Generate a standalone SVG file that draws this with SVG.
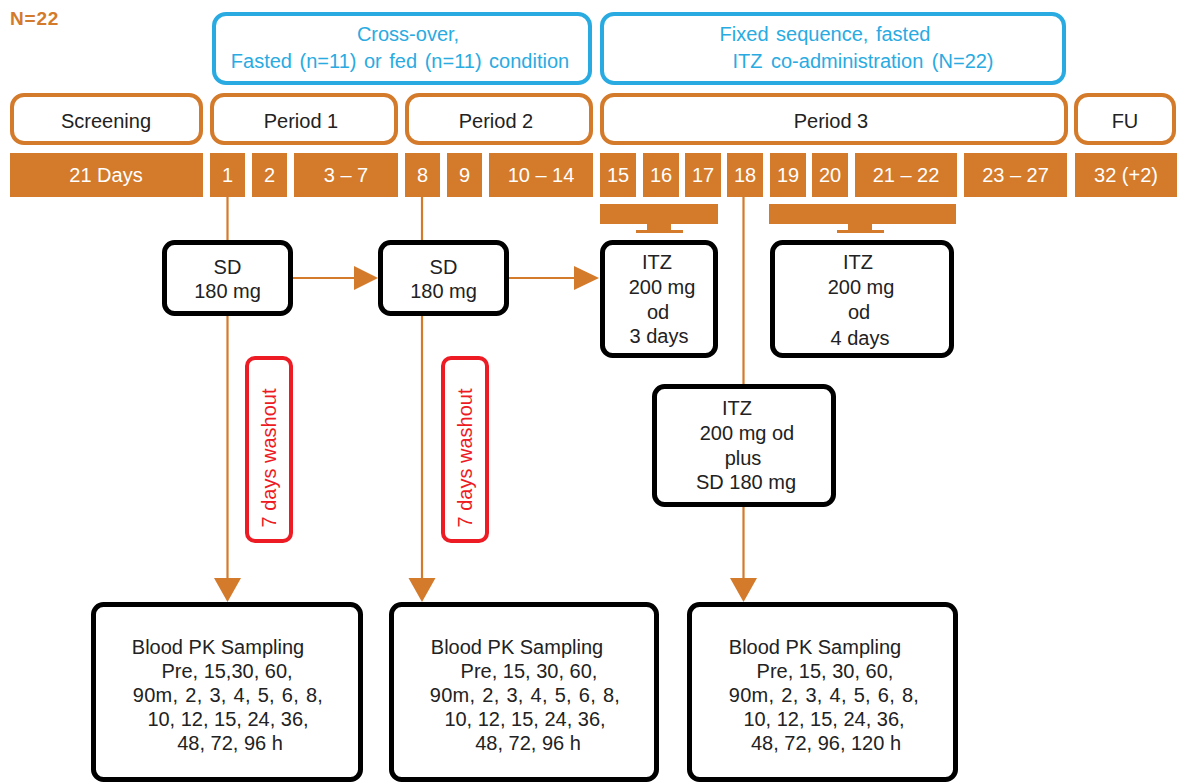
<svg xmlns="http://www.w3.org/2000/svg" width="1178" height="784" viewBox="0 0 1178 784">
<defs>
<style>
text{font-family:"Liberation Sans",Arial,sans-serif;font-size:20px;fill:#222;text-anchor:middle}
.blue{fill:none;stroke:#29ABE2;stroke-width:4}
.bt{fill:#29ABE2}
.per{fill:#fff;stroke:#D47A2B;stroke-width:4}
.day{fill:#D47A2B}
.dt{fill:#fff}
.node{fill:#fff;stroke:#000;stroke-width:5}
.wash{fill:#fff;stroke:#ED1C24;stroke-width:4}
.wt{fill:#ED1C24}
.ln{stroke:#D47A2B;stroke-width:2.2;fill:none}
.ah{fill:#D47A2B}
</style>
</defs>
<rect width="1178" height="784" fill="#fff"/>
<text x="10" y="25" style="text-anchor:start;font-weight:bold;font-size:19px;fill:#D47A2B;letter-spacing:0.8px">N=22</text>

<g id="group-crossover">
<rect class="blue" x="214" y="14" width="376" height="69" rx="12"/>
<text class="bt" x="408" y="41">Cross-over,</text>
<text class="bt" x="400" y="68" style="word-spacing:2px">Fasted (n=11) or fed (n=11) condition</text>
</g>
<g id="group-fixed">
<rect class="blue" x="602" y="14" width="462" height="69" rx="12"/>
<text class="bt" x="825" y="41" style="word-spacing:2px">Fixed sequence, fasted</text>
<text class="bt" x="863" y="68" style="word-spacing:3px">ITZ co-administration (N=22)</text>
</g>

<g id="period-screening"><rect class="per" x="12" y="95" width="189" height="48" rx="12"/><text x="106" y="128">Screening</text></g>
<g id="period-1"><rect class="per" x="212" y="95" width="184" height="48" rx="12"/><text x="301" y="128">Period 1</text></g>
<g id="period-2"><rect class="per" x="407" y="95" width="184" height="48" rx="12"/><text x="496" y="128">Period 2</text></g>
<g id="period-3"><rect class="per" x="602" y="95" width="464" height="48" rx="12"/><text x="831" y="128">Period 3</text></g>
<g id="period-fu"><rect class="per" x="1076" y="95" width="98" height="48" rx="12"/><text x="1125" y="128">FU</text></g>

<g id="days">
<rect class="day" x="10" y="153" width="193" height="44"/><text class="dt" x="106" y="182">21 Days</text>
<rect class="day" x="210" y="153" width="35" height="44"/><text class="dt" x="227.5" y="182">1</text>
<rect class="day" x="252" y="153" width="35" height="44"/><text class="dt" x="269.5" y="182">2</text>
<rect class="day" x="294" y="153" width="104" height="44"/><text class="dt" x="346" y="182">3 – 7</text>
<rect class="day" x="405" y="153" width="35" height="44"/><text class="dt" x="422.5" y="182">8</text>
<rect class="day" x="447" y="153" width="35" height="44"/><text class="dt" x="464.5" y="182">9</text>
<rect class="day" x="489" y="153" width="104" height="44"/><text class="dt" x="541" y="182">10 – 14</text>
<rect class="day" x="600" y="153" width="36" height="44"/><text class="dt" x="618" y="182">15</text>
<rect class="day" x="643" y="153" width="36" height="44"/><text class="dt" x="661" y="182">16</text>
<rect class="day" x="685" y="153" width="36" height="44"/><text class="dt" x="703" y="182">17</text>
<rect class="day" x="727" y="153" width="36" height="44"/><text class="dt" x="745" y="182">18</text>
<rect class="day" x="770" y="153" width="36" height="44"/><text class="dt" x="788" y="182">19</text>
<rect class="day" x="812" y="153" width="36" height="44"/><text class="dt" x="830" y="182">20</text>
<rect class="day" x="855" y="153" width="102" height="44"/><text class="dt" x="906" y="182">21 – 22</text>
<rect class="day" x="964" y="153" width="103" height="44"/><text class="dt" x="1015.5" y="182">23 – 27</text>
<rect class="day" x="1075" y="153" width="102" height="44"/><text class="dt" x="1126" y="182">32 (+2)</text>
</g>

<g id="brackets">
<rect class="day" x="600" y="204" width="118" height="20"/>
<rect class="day" x="647" y="224" width="24" height="7"/>
<rect class="day" x="636" y="230" width="47" height="3"/>
<rect class="day" x="769" y="204" width="187" height="20"/>
<rect class="day" x="848" y="224" width="24" height="7"/>
<rect class="day" x="837" y="230" width="47" height="3"/>
</g>

<g id="connectors">
<line class="ln" x1="227.5" y1="197" x2="227.5" y2="242"/>
<line class="ln" x1="227.5" y1="314" x2="227.5" y2="580"/>
<polygon class="ah" points="214,578 241,578 227.5,602"/>
<line class="ln" x1="422" y1="197" x2="422" y2="242"/>
<line class="ln" x1="422" y1="314" x2="422" y2="580"/>
<polygon class="ah" points="408.5,578 435.5,578 422,602"/>
<line class="ln" x1="743.5" y1="197" x2="743.5" y2="386"/>
<line class="ln" x1="743.5" y1="505" x2="743.5" y2="580"/>
<polygon class="ah" points="730,578 757,578 743.5,602"/>
<line class="ln" x1="292" y1="278" x2="356" y2="278"/>
<polygon class="ah" points="354,266 378,278 354,290"/>
<line class="ln" x1="508" y1="278" x2="576" y2="278"/>
<polygon class="ah" points="574,266 599,278 574,290"/>
</g>

<g id="sd-1"><rect class="node" x="164.5" y="242.5" width="126" height="71" rx="10"/><text x="227.5" y="274">SD</text><text x="227.5" y="298">180 mg</text></g>
<g id="sd-2"><rect class="node" x="380.5" y="242.5" width="126" height="71" rx="10"/><text x="443.5" y="274">SD</text><text x="443.5" y="298">180 mg</text></g>
<g id="itz-3days"><rect class="node" x="602.5" y="242.5" width="113" height="113" rx="10"/>
<text x="657" y="269">ITZ</text><text x="662" y="294">200 mg</text><text x="658" y="319">od</text><text x="659" y="343">3 days</text></g>
<g id="itz-4days"><rect class="node" x="772.5" y="242.5" width="179" height="113" rx="10"/>
<text x="858" y="269">ITZ</text><text x="861" y="294">200 mg</text><text x="859" y="319">od</text><text x="860" y="345">4 days</text></g>
<g id="itz-combined"><rect class="node" x="654.5" y="386.5" width="179" height="118" rx="10"/>
<text x="737" y="415">ITZ</text><text x="747" y="440">200 mg od</text><text x="743" y="465">plus</text><text x="746" y="489">SD 180 mg</text></g>

<g id="washout-1"><rect class="wash" x="247" y="358" width="44" height="183" rx="8"/><text class="wt" transform="translate(276,458) rotate(-90)" x="0" y="0">7 days washout</text></g>
<g id="washout-2"><rect class="wash" x="443" y="358" width="44" height="183" rx="8"/><text class="wt" transform="translate(472,458) rotate(-90)" x="0" y="0">7 days washout</text></g>

<g id="pk-1"><rect class="node" x="93.5" y="604.5" width="267" height="175" rx="10"/>
<text x="218" y="654">Blood PK Sampling</text>
<text x="227" y="678">Pre, 15,30, 60,</text>
<text x="228" y="702" style="word-spacing:1px;letter-spacing:0.3px">90m, 2, 3, 4, 5, 6, 8,</text>
<text x="228" y="726">10, 12, 15, 24, 36,</text>
<text x="230" y="750">48, 72, 96 h</text></g>
<g id="pk-2"><rect class="node" x="391.5" y="604.5" width="265" height="175" rx="10"/>
<text x="517" y="654">Blood PK Sampling</text>
<text x="529" y="678">Pre, 15, 30, 60,</text>
<text x="525" y="702" style="word-spacing:1px;letter-spacing:0.3px">90m, 2, 3, 4, 5, 6, 8,</text>
<text x="525" y="726">10, 12, 15, 24, 36,</text>
<text x="528" y="750">48, 72, 96 h</text></g>
<g id="pk-3"><rect class="node" x="689.5" y="604.5" width="266" height="175" rx="10"/>
<text x="815" y="654">Blood PK Sampling</text>
<text x="825" y="678">Pre, 15, 30, 60,</text>
<text x="824" y="702" style="word-spacing:1px;letter-spacing:0.3px">90m, 2, 3, 4, 5, 6, 8,</text>
<text x="824" y="726">10, 12, 15, 24, 36,</text>
<text x="826" y="750">48, 72, 96, 120 h</text></g>
</svg>
